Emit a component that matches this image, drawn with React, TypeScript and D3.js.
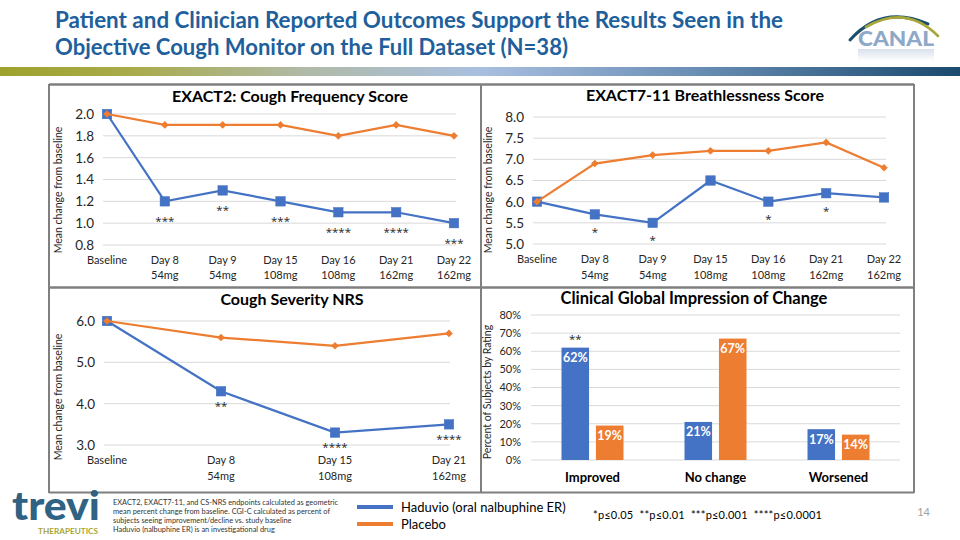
import React from "react";
import * as d3 from "d3";

// ---------- DATA ----------
const exact2Categories = ["Baseline", "Day 8", "Day 9", "Day 15", "Day 16", "Day 21", "Day 22"];
const exact2Doses = ["", "54mg", "54mg", "108mg", "108mg", "162mg", "162mg"];
const exact2Haduvio = [2.0, 1.2, 1.3, 1.2, 1.1, 1.1, 1.0];
const exact2Placebo = [2.0, 1.9, 1.9, 1.9, 1.8, 1.9, 1.8];
const exact2Sig = ["", "***", "**", "***", "****", "****", "***"];
const exact2Ticks = [0.8, 1.0, 1.2, 1.4, 1.6, 1.8, 2.0];

const exact711Categories = ["Baseline", "Day 8", "Day 9", "Day 15", "Day 16", "Day 21", "Day 22"];
const exact711Doses = ["", "54mg", "54mg", "108mg", "108mg", "162mg", "162mg"];
const exact711Haduvio = [6.0, 5.7, 5.5, 6.5, 6.0, 6.2, 6.1];
const exact711Placebo = [6.0, 6.9, 7.1, 7.2, 7.2, 7.4, 6.8];
const exact711Sig = ["", "*", "*", "", "*", "*", ""];
const exact711Ticks = [5.0, 5.5, 6.0, 6.5, 7.0, 7.5, 8.0];

const nrsCategories = ["Baseline", "Day 8", "Day 15", "Day 21"];
const nrsDoses = ["", "54mg", "108mg", "162mg"];
const nrsHaduvio = [6.0, 4.3, 3.3, 3.5];
const nrsPlacebo = [6.0, 5.6, 5.4, 5.7];
const nrsSig = ["", "**", "****", "****"];
const nrsTicks = [3.0, 4.0, 5.0, 6.0];

const cgicCategories = ["Improved", "No change", "Worsened"];
const cgicHaduvio = [62, 21, 17];
const cgicPlacebo = [19, 67, 14];
const cgicSig = ["**", "", ""];
const cgicTicks = [0, 10, 20, 30, 40, 50, 60, 70, 80];

const seriesNames = ["Haduvio (oral nalbuphine ER)", "Placebo"];
const footnoteLines = [
  "EXACT2, EXACT7-11, and CS-NRS endpoints calculated as geometric",
  "mean percent change from baseline. CGI-C calculated as percent of",
  "subjects seeing improvement/decline vs. study baseline",
  "Haduvio (nalbuphine ER) is an investigational drug",
];
const pNote = "*p\u22640.05  **p\u22640.01  ***p\u22640.001  ****p\u22640.0001";

// ---------- STYLE ----------
const BLUE = "#4472C4";
const ORANGE = "#ED7D31";
const GRID = "#d9d9d9";
const FONT = "Lato, 'Open Sans', sans-serif";
const STAR_FONT = "'Open Sans', 'DejaVu Sans', sans-serif";
const TXT = "#262626";

type LineProps = {
  title: string;
  titleX: number;
  titleY: number;
  yTitle: string;
  yTitleX: number;
  yTitleY: number;
  cats: string[];
  doses: string[];
  haduvio: number[];
  placebo: number[];
  sig: string[];
  ticks: number[];
  domain: [number, number];
  xRange: [number, number];
  gridX: [number, number];
  yRange: [number, number];
  labelY1: number;
  labelY2: number;
  sigOffset: number;
};

function LinePanel(p: LineProps) {
  const x = d3.scalePoint<string>().domain(p.cats).range(p.xRange);
  const y = d3.scaleLinear().domain(p.domain).range(p.yRange);
  const fmt = d3.format(".1f");
  const line = d3
    .line<number>()
    .x((_, i) => x(p.cats[i]) as number)
    .y((d) => y(d));
  return (
    <g fontFamily={FONT}>
      <text x={p.titleX} y={p.titleY} textAnchor="middle" fontSize={16} fontWeight={700} fill="#000">
        {p.title}
      </text>
      {p.ticks.map((t) => (
        <line key={"g" + t} x1={p.gridX[0]} x2={p.gridX[1]} y1={y(t)} y2={y(t)} stroke={GRID} strokeWidth={1} />
      ))}
      {p.ticks.map((t) => (
        <text key={"t" + t} x={p.gridX[0] - 9} y={y(t)} dy="0.36em" textAnchor="end" fontSize={13.5} fill={TXT}>
          {fmt(t)}
        </text>
      ))}
      <text
        transform={`translate(${p.yTitleX},${p.yTitleY}) rotate(-90)`}
        textAnchor="middle"
        dy="0.35em"
        fontSize={10.5}
        fill={TXT}
      >
        {p.yTitle}
      </text>
      {p.cats.map((c, i) => (
        <g key={"c" + c}>
          <text x={x(c)} y={p.labelY1} textAnchor="middle" fontSize={11} fill={TXT}>
            {c}
          </text>
          <text x={x(c)} y={p.labelY2} textAnchor="middle" fontSize={11} fill={TXT}>
            {p.doses[i]}
          </text>
        </g>
      ))}
      <path d={line(p.haduvio) || ""} fill="none" stroke={BLUE} strokeWidth={2.25} />
      {p.haduvio.map((v, i) => (
        <rect
          key={"h" + i}
          x={(x(p.cats[i]) as number) - 4.75}
          y={y(v) - 4.75}
          width={9.5}
          height={9.5}
          fill={BLUE}
          stroke={BLUE}
          strokeWidth={0.5}
        />
      ))}
      <path d={line(p.placebo) || ""} fill="none" stroke={ORANGE} strokeWidth={2.25} />
      {p.placebo.map((v, i) => {
        const cx = x(p.cats[i]) as number;
        const cy = y(v);
        return (
          <path
            key={"p" + i}
            d={`M${cx},${cy - 3.8}L${cx + 3.8},${cy}L${cx},${cy + 3.8}L${cx - 3.8},${cy}Z`}
            fill={ORANGE}
          />
        );
      })}
      {p.sig.map((s, i) =>
        s ? (
          <text
            key={"s" + i}
            x={x(p.cats[i])}
            y={y(p.haduvio[i]) + p.sigOffset + 5.5}
            textAnchor="middle"
            fontSize={11.5}
            fontFamily={STAR_FONT}
            fill={TXT}
          >
            {s}
          </text>
        ) : null
      )}
    </g>
  );
}

function BarPanel() {
  const gx = d3.scaleBand<string>().domain(cgicCategories).range([531, 900]).padding(0);
  const inner = d3.scaleBand<string>().domain(seriesNames).range([30.5, 92.5]).paddingInner(0.2);
  const y = d3.scaleLinear().domain([0, 80]).range([460, 315]);
  const values = [cgicHaduvio, cgicPlacebo];
  const colors = [BLUE, ORANGE];
  return (
    <g fontFamily={FONT}>
      <text x={694} y={304} textAnchor="middle" fontSize={16.5} fontWeight={700} fill="#000">
        Clinical Global Impression of Change
      </text>
      {cgicTicks.map((t) => (
        <line key={"g" + t} x1={531} x2={900} y1={y(t)} y2={y(t)} stroke={GRID} strokeWidth={1} />
      ))}
      {cgicTicks.map((t) => (
        <text key={"t" + t} x={521} y={y(t)} dy="0.36em" textAnchor="end" fontSize={11} fill={TXT}>
          {t + "%"}
        </text>
      ))}
      <text
        transform={`translate(487,392) rotate(-90)`}
        textAnchor="middle"
        dy="0.35em"
        fontSize={10.5}
        fill={TXT}
      >
        Percent of Subjects by Rating
      </text>
      {cgicCategories.map((c, ci) => (
        <g key={c}>
          {seriesNames.map((s, si) => {
            const v = values[si][ci];
            const bx = (gx(c) as number) + (inner(s) as number);
            const bw = inner.bandwidth();
            return (
              <g key={s}>
                <rect x={bx} y={y(v)} width={bw} height={y(0) - y(v)} fill={colors[si]} />
                <text
                  x={bx + bw / 2}
                  y={y(v) + 10}
                  dy="0.36em"
                  textAnchor="middle"
                  fontSize={12.5}
                  fontWeight={700}
                  fill="#fff"
                >
                  {v + "%"}
                </text>
              </g>
            );
          })}
          {cgicSig[ci] ? (
            <text
              x={(gx(c) as number) + (inner(seriesNames[0]) as number) + inner.bandwidth() / 2}
              y={y(cgicHaduvio[ci]) - 10 + 5.5}
              textAnchor="middle"
              fontSize={11.5}
              fontFamily={STAR_FONT}
              fill={TXT}
            >
              {cgicSig[ci]}
            </text>
          ) : null}
          <text
            x={(gx(c) as number) + gx.bandwidth() / 2}
            y={482}
            textAnchor="middle"
            fontSize={13}
            fontWeight={700}
            fill="#000"
          >
            {c}
          </text>
        </g>
      ))}
    </g>
  );
}

export default function App() {
  return (
    <svg
      width={960}
      height={540}
      viewBox="0 0 960 540"
      style={{ position: "absolute", left: 0, top: 0, background: "#fff" }}
      fontFamily={FONT}
    >
      <defs>
        <linearGradient id="band" x1="0" x2="1" y1="0" y2="0">
          <stop offset="0" stopColor="#9ea22c" />
          <stop offset="0.14" stopColor="#a9ab4c" />
          <stop offset="0.32" stopColor="#b0baa8" />
          <stop offset="0.5" stopColor="#a9bfe0" />
          <stop offset="0.72" stopColor="#6b8fb5" />
          <stop offset="1" stopColor="#1a4a6e" />
        </linearGradient>
        <linearGradient id="refl" x1="0" x2="0" y1="0" y2="1">
          <stop offset="0" stopColor="#8ea8c8" stopOpacity={0.35} />
          <stop offset="1" stopColor="#8ea8c8" stopOpacity={0} />
        </linearGradient>
      </defs>
      <rect x={0} y={0} width={960} height={540} fill="#fff" />

      {/* Title */}
      <text x={55} y={28} fontSize={22} fontWeight={700} fill="#215f9c" textLength={728} lengthAdjust="spacingAndGlyphs">
        Patient and Clinician Reported Outcomes Support the Results Seen in the
      </text>
      <text x={55} y={55} fontSize={22} fontWeight={700} fill="#215f9c" textLength={513} lengthAdjust="spacingAndGlyphs">
        Objective Cough Monitor on the Full Dataset (N=38)
      </text>
      <rect x={0} y={67} width={960} height={9} fill="url(#band)" />

      {/* CANAL logo */}
      <g>
        <path d="M850,40 Q882,4 928,24" fill="none" stroke="#1d4e6e" strokeWidth={3} strokeLinecap="round" />
        <path d="M866,27 Q906,4 938,36" fill="none" stroke="#a8a83a" strokeWidth={2.6} strokeLinecap="round" />
        <text x={896} y={46} textAnchor="middle" fontSize={21} fontWeight={900} fill="#8ea8c8" textLength={76} lengthAdjust="spacingAndGlyphs">
          CANAL
        </text>
        <rect x={858} y={49} width={76} height={12} fill="url(#refl)" />
      </g>

      {/* Frame */}
      <line x1={49} x2={49} y1={84} y2={493} stroke="#000" strokeWidth={1} />
      <line x1={481} x2={481} y1={84} y2={493} stroke="#000" strokeWidth={1} />
      <line x1={914} x2={914} y1={84} y2={493} stroke="#000" strokeWidth={1} />
      <line x1={49} x2={914} y1={84.5} y2={84.5} stroke="#7f7f7f" strokeWidth={2.5} />
      <line x1={49} x2={914} y1={287.5} y2={287.5} stroke="#7f7f7f" strokeWidth={2.5} />
      <line x1={49} x2={914} y1={492.5} y2={492.5} stroke="#7f7f7f" strokeWidth={2} />

      <LinePanel
        title="EXACT2: Cough Frequency Score"
        titleX={290}
        titleY={102}
        yTitle="Mean change from baseline"
        yTitleX={58}
        yTitleY={190}
        cats={exact2Categories}
        doses={exact2Doses}
        haduvio={exact2Haduvio}
        placebo={exact2Placebo}
        sig={exact2Sig}
        ticks={exact2Ticks}
        domain={[0.8, 2.0]}
        xRange={[107, 454]}
        gridX={[103, 456]}
        yRange={[245, 114]}
        labelY1={264}
        labelY2={279}
        sigOffset={18}
      />
      <LinePanel
        title="EXACT7-11 Breathlessness Score"
        titleX={705}
        titleY={101}
        yTitle="Mean change from baseline"
        yTitleX={488}
        yTitleY={190}
        cats={exact711Categories}
        doses={exact711Doses}
        haduvio={exact711Haduvio}
        placebo={exact711Placebo}
        sig={exact711Sig}
        ticks={exact711Ticks}
        domain={[5.0, 8.0]}
        xRange={[537, 884]}
        gridX={[533, 886]}
        yRange={[244, 117]}
        labelY1={263}
        labelY2={279}
        sigOffset={16}
      />
      <LinePanel
        title="Cough Severity NRS"
        titleX={292}
        titleY={305}
        yTitle="Mean change from baseline"
        yTitleX={58}
        yTitleY={397}
        cats={nrsCategories}
        doses={nrsDoses}
        haduvio={nrsHaduvio}
        placebo={nrsPlacebo}
        sig={nrsSig}
        ticks={nrsTicks}
        domain={[3.0, 6.0]}
        xRange={[107, 449]}
        gridX={[104, 450]}
        yRange={[445, 321]}
        labelY1={464}
        labelY2={480}
        sigOffset={13}
      />
      <BarPanel />

      {/* trevi logo */}
      <text x={12} y={520} fontSize={40} fontWeight={900} fill="#2f6283" textLength={88} lengthAdjust="spacingAndGlyphs">
        trevi
      </text>
      <text x={38} y={534} fontSize={7.5} fontWeight={700} fill="#a7a530" textLength={60} lengthAdjust="spacingAndGlyphs">
        THERAPEUTICS
      </text>

      {/* Footnote */}
      {footnoteLines.map((l, i) => (
        <text key={i} x={113} y={505 + i * 9} fontSize={7.4} fill="#333">
          {l}
        </text>
      ))}

      {/* Legend */}
      <line x1={357} x2={393} y1={507} y2={507} stroke={BLUE} strokeWidth={4} />
      <text x={401} y={507} dy="0.36em" fontSize={13} fill="#000">
        {seriesNames[0]}
      </text>
      <line x1={357} x2={393} y1={524} y2={524} stroke={ORANGE} strokeWidth={4} />
      <text x={401} y={524} dy="0.36em" fontSize={13} fill="#000">
        {seriesNames[1]}
      </text>

      <text
        x={593}
        y={515}
        dy="0.36em"
        fontSize={11}
        fill="#000"
        style={{ whiteSpace: "pre" }}
        textLength={229}
        lengthAdjust="spacing"
      >
        {pNote}
      </text>
      <text x={930} y={512} dy="0.36em" textAnchor="end" fontSize={11} fill="#a0a0a0">
        14
      </text>
    </svg>
  );
}
